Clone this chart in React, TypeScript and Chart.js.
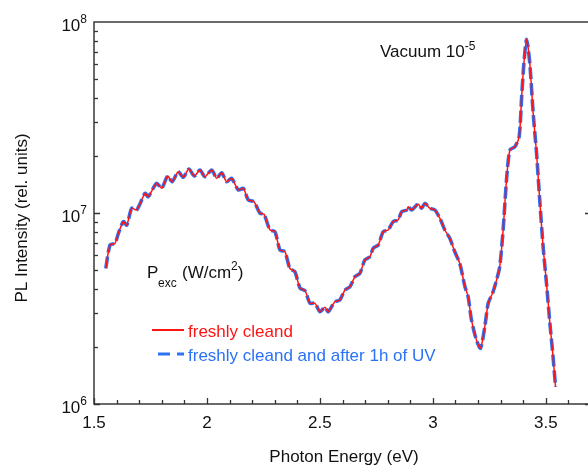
import React, { useEffect, useRef } from "react";
import { Chart, registerables } from "chart.js";

Chart.register(...registerables);

// Photon energy (eV)
const energy = [
  1.552, 1.571, 1.593, 1.608, 1.63, 1.645, 1.667, 1.689, 1.726, 1.74,
  1.777, 1.8, 1.826, 1.846, 1.873, 1.895, 1.92, 1.944, 1.969, 1.991,
  2.021, 2.043, 2.065, 2.087, 2.109, 2.139, 2.161, 2.183, 2.208, 2.235,
  2.252, 2.279, 2.301, 2.323, 2.345, 2.367, 2.389, 2.412, 2.434, 2.456,
  2.478, 2.5, 2.522, 2.537, 2.566, 2.588, 2.611, 2.633, 2.655, 2.677,
  2.699, 2.721, 2.736, 2.758, 2.78, 2.802, 2.824, 2.846, 2.862, 2.884,
  2.891, 2.906, 2.935, 2.95, 2.965, 2.987, 3.009, 3.031, 3.053, 3.075,
  3.097, 3.119, 3.142, 3.156, 3.171, 3.193, 3.211, 3.23, 3.245, 3.264,
  3.282, 3.296, 3.311, 3.326, 3.341, 3.363, 3.382, 3.393, 3.403, 3.415,
  3.429, 3.444, 3.459, 3.473, 3.488, 3.503, 3.518, 3.532, 3.543,
];

// PL intensity, freshly cleaned
const intensityFresh = [
  5.13e6, 6.8e6, 6.94e6, 7.83e6, 9.01e6, 8.65e6, 1.058e7, 1.037e7, 1.268e7, 1.217e7,
  1.431e7, 1.347e7, 1.562e7, 1.458e7, 1.645e7, 1.538e7, 1.7e7, 1.562e7, 1.68e7, 1.549e7,
  1.68e7, 1.519e7, 1.626e7, 1.458e7, 1.519e7, 1.319e7, 1.347e7, 1.17e7, 1.146e7, 9.96e6,
  9.88e6, 8.15e6, 7.98e6, 6.4e6, 6.27e6, 5.13e6, 4.93e6, 4.04e6, 3.92e6, 3.37e6,
  3.37e6, 3.04e6, 3.21e6, 3.04e6, 3.43e6, 3.5e6, 3.95e6, 4.11e6, 4.64e6, 4.83e6,
  5.68e6, 5.9e6, 6.54e6, 6.8e6, 7.98e6, 8.15e6, 9.01e6, 9.19e6, 1.016e7, 1.037e7,
  1.079e7, 1.037e7, 1.114e7, 1.058e7, 1.124e7, 1.058e7, 1.037e7, 9.38e6, 8.15e6, 7.37e6,
  6.27e6, 5.45e6, 4.11e6, 3.65e6, 2.75e6, 2.16e6, 1.96e6, 2.54e6, 3.37e6, 3.8e6,
  4.46e6, 5.23e6, 8.15e6, 1.489e7, 2.137e7, 2.224e7, 2.509e7, 4.06e7, 6.08e7, 8.12e7,
  6.08e7, 3.33e7, 2.055e7, 1.17e7, 6.66e6, 4.28e6, 2.65e6, 1.77e6, 1.23e6,
];

// PL intensity, freshly cleaned and after 1h of UV (overlaps the first curve)
const intensityUV = [
  5.13e6, 6.8e6, 6.94e6, 7.83e6, 9.01e6, 8.65e6, 1.058e7, 1.037e7, 1.268e7, 1.217e7,
  1.431e7, 1.347e7, 1.562e7, 1.458e7, 1.645e7, 1.538e7, 1.7e7, 1.562e7, 1.68e7, 1.549e7,
  1.68e7, 1.519e7, 1.626e7, 1.458e7, 1.519e7, 1.319e7, 1.347e7, 1.17e7, 1.146e7, 9.96e6,
  9.88e6, 8.15e6, 7.98e6, 6.4e6, 6.27e6, 5.13e6, 4.93e6, 4.04e6, 3.92e6, 3.37e6,
  3.37e6, 3.04e6, 3.21e6, 3.04e6, 3.43e6, 3.5e6, 3.95e6, 4.11e6, 4.64e6, 4.83e6,
  5.68e6, 5.9e6, 6.54e6, 6.8e6, 7.98e6, 8.15e6, 9.01e6, 9.19e6, 1.016e7, 1.037e7,
  1.079e7, 1.037e7, 1.114e7, 1.058e7, 1.124e7, 1.058e7, 1.037e7, 9.38e6, 8.15e6, 7.37e6,
  6.27e6, 5.45e6, 4.11e6, 3.65e6, 2.75e6, 2.16e6, 1.96e6, 2.54e6, 3.37e6, 3.8e6,
  4.46e6, 5.23e6, 8.15e6, 1.489e7, 2.137e7, 2.224e7, 2.509e7, 4.06e7, 6.08e7, 8.12e7,
  6.08e7, 3.33e7, 2.055e7, 1.17e7, 6.66e6, 4.28e6, 2.65e6, 1.77e6, 1.23e6,
];

const seriesLabels = ["freshly cleand", "freshly cleand and after 1h of UV"];
const xTickValues = [1.5, 2, 2.5, 3, 3.5];
const xTickLabels = ["1.5", "2", "2.5", "3", "3.5"];
const yDecadeValues = [1e6, 1e7, 1e8];
const yDecadeExponents = ["6", "7", "8"];
const xTitle = "Photon Energy (eV)";
const yTitle = "PL Intensity (rel. units)";

const RED = "#ff1414";
const BLUE = "#2a72f6";
const FONT = "'Liberation Sans', Arial, sans-serif";

const decorPlugin = {
  id: "decor",
  afterDraw(chart: any) {
    const ctx: CanvasRenderingContext2D = chart.ctx;
    const { left, right, top, bottom } = chart.chartArea;
    const xs = chart.scales.x;
    const ys = chart.scales.y;
    ctx.save();

    // frame
    ctx.strokeStyle = "#3a3a3a";
    ctx.lineWidth = 1.5;
    ctx.beginPath();
    ctx.rect(left, top, right - left, bottom - top);
    ctx.stroke();

    // x ticks (inward)
    ctx.lineWidth = 1.3;
    ctx.strokeStyle = "#333";
    for (let i = 15; i <= 37; i++) {
      const v = i / 10;
      const px = Math.round(xs.getPixelForValue(v)) + 0.5;
      const len = i % 5 === 0 ? 6 : 4;
      ctx.beginPath();
      ctx.moveTo(px, bottom);
      ctx.lineTo(px, bottom - len);
      ctx.stroke();
    }
    // y ticks (inward): minor and major on the left, major on the right
    for (let d = 6; d < 8; d++) {
      for (let m = 1; m <= 9; m++) {
        const v = m * Math.pow(10, d);
        const py = Math.round(ys.getPixelForValue(v)) + 0.5;
        const len = m === 1 ? 6 : 4;
        ctx.beginPath();
        ctx.moveTo(left, py);
        ctx.lineTo(left + len, py);
        if (m === 1) {
          ctx.moveTo(right, py);
          ctx.lineTo(right - len, py);
        }
        ctx.stroke();
      }
    }

    // x tick labels
    ctx.fillStyle = "#111";
    ctx.font = `17px ${FONT}`;
    ctx.textAlign = "center";
    ctx.textBaseline = "alphabetic";
    xTickValues.forEach((v, i) => {
      ctx.fillText(xTickLabels[i], xs.getPixelForValue(v), 428);
    });

    // y tick labels 10^n
    yDecadeValues.forEach((v, i) => {
      const py = ys.getPixelForValue(v);
      ctx.font = `12px ${FONT}`;
      const supW = ctx.measureText(yDecadeExponents[i]).width;
      ctx.font = `17px ${FONT}`;
      const baseW = ctx.measureText("10").width;
      const xEnd = 87;
      ctx.textAlign = "left";
      ctx.fillText("10", xEnd - supW - baseW, py + 9);
      ctx.font = `12px ${FONT}`;
      ctx.fillText(yDecadeExponents[i], xEnd - supW, py + 1);
    });

    // axis titles
    ctx.font = `17px ${FONT}`;
    ctx.textAlign = "center";
    ctx.fillText(xTitle, 344, 462);
    ctx.save();
    ctx.translate(27, 218);
    ctx.rotate(-Math.PI / 2);
    ctx.fillText(yTitle, 0, 0);
    ctx.restore();

    // Vacuum annotation
    ctx.textAlign = "left";
    ctx.font = `17px ${FONT}`;
    ctx.fillText("Vacuum 10", 380, 57);
    const vw = ctx.measureText("Vacuum 10").width;
    ctx.font = `12px ${FONT}`;
    ctx.fillText("-5", 380 + vw, 50);

    // P_exc (W/cm^2)
    ctx.font = `17px ${FONT}`;
    ctx.fillText("P", 147, 278);
    ctx.font = `12px ${FONT}`;
    ctx.fillText("exc", 158, 287);
    ctx.font = `17px ${FONT}`;
    ctx.fillText("(W/cm", 182, 278);
    const pw = ctx.measureText("(W/cm").width;
    ctx.font = `12px ${FONT}`;
    ctx.fillText("2", 182 + pw, 270);
    const tw = ctx.measureText("2").width;
    ctx.font = `17px ${FONT}`;
    ctx.fillText(")", 182 + pw + tw, 278);

    // legend
    ctx.strokeStyle = RED;
    ctx.lineWidth = 2;
    ctx.beginPath();
    ctx.moveTo(152, 330);
    ctx.lineTo(184, 330);
    ctx.stroke();
    ctx.fillStyle = RED;
    ctx.font = `17px ${FONT}`;
    ctx.fillText(seriesLabels[0], 188, 337);

    ctx.strokeStyle = BLUE;
    ctx.lineWidth = 3;
    ctx.setLineDash([12, 7]);
    ctx.beginPath();
    ctx.moveTo(158, 354);
    ctx.lineTo(184, 354);
    ctx.stroke();
    ctx.setLineDash([]);
    ctx.fillStyle = BLUE;
    ctx.fillText(seriesLabels[1], 188, 361);

    ctx.restore();
  },
};

export default function App() {
  const canvasRef = useRef<HTMLCanvasElement | null>(null);

  useEffect(() => {
    const canvas = canvasRef.current;
    if (!canvas) return;
    const freshData = energy.map((x, i) => ({ x, y: intensityFresh[i] }));
    const uvData = energy.map((x, i) => ({ x, y: intensityUV[i] }));
    const chart = new Chart(canvas, {
      type: "line",
      data: {
        datasets: [
          {
            label: seriesLabels[0],
            data: freshData,
            borderColor: RED,
            borderWidth: 1.5,
            pointRadius: 0,
            tension: 0.25,
            fill: false,
          },
          {
            label: seriesLabels[1],
            data: uvData,
            borderColor: BLUE,
            borderWidth: 3.6,
            borderDash: [12, 4],
            pointRadius: 0,
            tension: 0.25,
            fill: false,
          },
        ],
      },
      options: {
        responsive: false,
        animation: false,
        devicePixelRatio: 1,
        layout: { padding: { top: 22, right: 9, left: 0, bottom: 0 } },
        plugins: {
          legend: { display: false },
          tooltip: { enabled: false },
        },
        scales: {
          x: {
            type: "linear",
            min: 1.5,
            max: 3.7,
            grid: { display: false },
            border: { display: false },
            ticks: { display: false },
            afterFit: (s: any) => {
              s.height = 62;
            },
          },
          y: {
            type: "logarithmic",
            min: 1e6,
            max: 1e8,
            grid: { display: false },
            border: { display: false },
            ticks: { display: false },
            afterFit: (s: any) => {
              s.width = 94;
            },
          },
        },
      },
      plugins: [decorPlugin],
    });
    return () => chart.destroy();
  }, []);

  return (
    <div
      style={{
        position: "fixed",
        left: 0,
        top: 0,
        width: 588,
        height: 466,
        overflow: "hidden",
        background: "#fff",
      }}
    >
      <canvas ref={canvasRef} width={600} height={466} style={{ display: "block" }} />
    </div>
  );
}
